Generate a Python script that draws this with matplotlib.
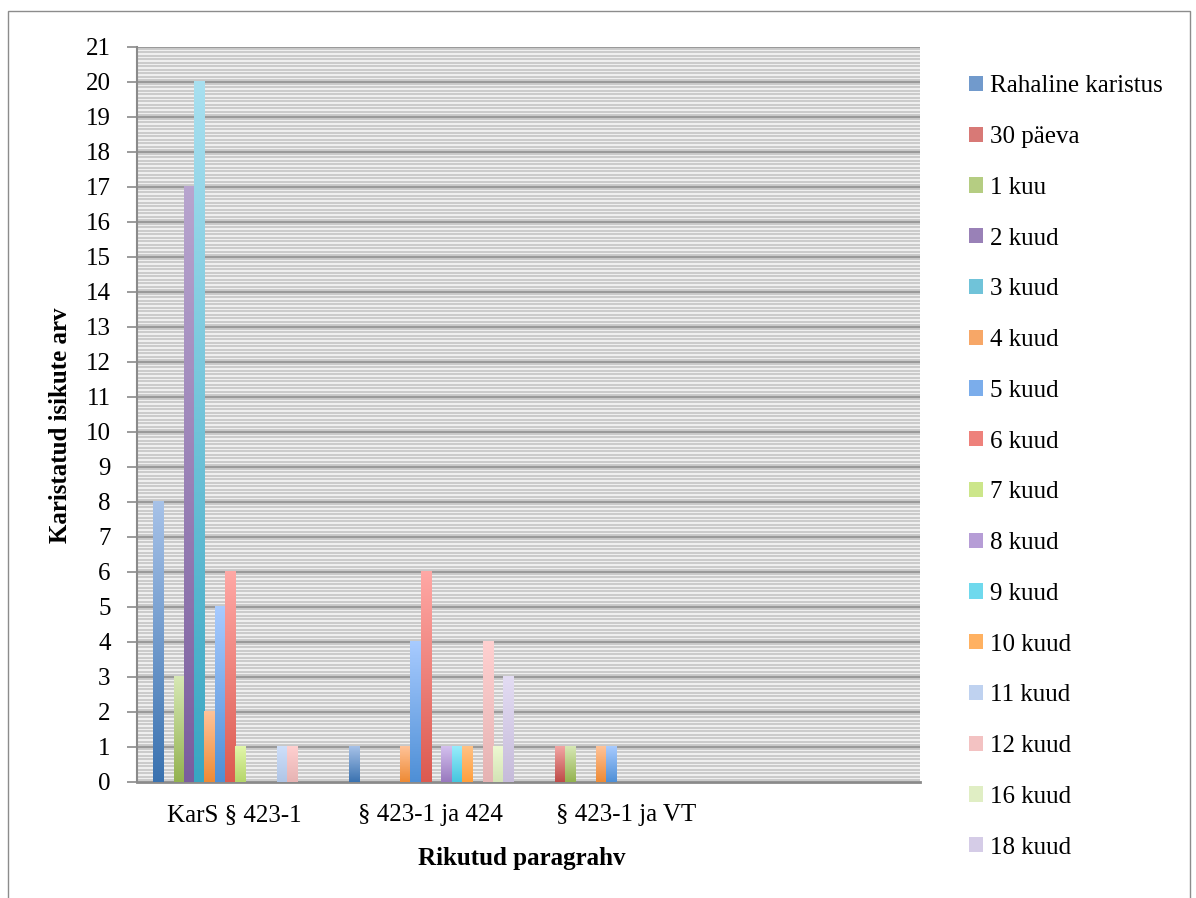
import numpy as np
import matplotlib.pyplot as plt
from matplotlib.colors import LinearSegmentedColormap
from matplotlib.patches import Patch, Rectangle

plt.rcParams['font.family'] = ['Liberation Serif', 'DejaVu Serif']

categories = ["KarS § 423-1", "§ 423-1 ja 424", "§ 423-1 ja VT", ""]
series = ["Rahaline karistus", "30 päeva", "1 kuu", "2 kuud", "3 kuud", "4 kuud",
          "5 kuud", "6 kuud", "7 kuud", "8 kuud", "9 kuud", "10 kuud",
          "11 kuud", "12 kuud", "16 kuud", "18 kuud"]
# one list per category, values in series order
karS_423 = [8, 0, 3, 17, 20, 2, 5, 6, 1, 0, 0, 0, 1, 1, 0, 0]
ja_424 = [1, 0, 0, 0, 0, 1, 4, 6, 0, 1, 1, 1, 0, 4, 1, 3]
ja_vt = [0, 1, 1, 0, 0, 1, 1, 0, 0, 0, 0, 0, 0, 0, 0, 0]
empty = [0] * 16

# gradient colours (top, bottom)
tops = ["#A7C2E8", "#F2A6A4", "#D7E8B5", "#B8A5CF", "#A8E0F0", "#FFC399",
        "#A8CBFF", "#FFA8A5", "#E2F7AA", "#D4C0EE", "#98ECFC", "#FFC285",
        "#CEDFFA", "#FFD0D0", "#EDF9D2", "#E3DCF3"]
bottoms = ["#3A72B0", "#BE4B48", "#93B24F", "#7A5D9E", "#38A6C2", "#EE8A34",
           "#4E8FD6", "#DC5A50", "#B5D56A", "#9879BE", "#46C6DE", "#FF9F3C",
           "#AFC5E6", "#E6B3B3", "#D3E3B5", "#C6BBDA"]

values = np.array([karS_423, ja_424, ja_vt, empty])

fig = plt.figure(figsize=(11.96, 8.98), dpi=100)
ax = fig.add_axes([0.1145, 0.1292, 0.6545, 0.8185])

# striped background
ax.set_facecolor("#efefef")
for yy in np.arange(0.05, 21, 0.1):
    ax.axhline(yy, color="#c4c4c4", lw=1.2, zorder=0)
for yy in range(1, 22):
    ax.axhline(yy, color="#9a9a9a", lw=1.5, zorder=1)

n = len(series)
w = 0.842 / n
x = np.arange(len(categories))
grad = np.linspace(0, 1, 256).reshape(-1, 1)
for i in range(n):
    cm = LinearSegmentedColormap.from_list("c%d" % i, [bottoms[i], tops[i]])
    for j in range(len(categories)):
        v = values[j, i]
        if v <= 0:
            continue
        x0 = x[j] - 0.418 + i * w
        ax.imshow(grad, extent=[x0, x0 + w, 0, v], origin="lower", cmap=cm,
                  aspect="auto", zorder=3, interpolation="bilinear")

ax.set_xlim(-0.5, 3.5)
ax.set_ylim(0, 21)
ax.set_yticks(range(0, 22))
ax.set_xticks(x)
ax.set_xticklabels(categories, fontsize=18)
ax.tick_params(axis="x", length=0, pad=16)
ax.tick_params(axis="y", length=7, width=1.2, color="#8a8a8a", pad=12, labelsize=18)
for s in ["top", "right"]:
    ax.spines[s].set_visible(False)
ax.spines["left"].set_color("#8a8a8a")
ax.spines["left"].set_linewidth(1.5)
ax.spines["bottom"].set_color("#8a8a8a")
ax.spines["bottom"].set_linewidth(2)

ax.set_xlabel("Rikutud paragrahv", fontsize=18, fontweight="bold")
ax.xaxis.set_label_coords(0.4917, -0.088)
ax.set_ylabel("Karistatud isikute arv", fontsize=18, fontweight="bold")
ax.yaxis.set_label_coords(-0.083, 0.486)

handles = [Patch(facecolor=LinearSegmentedColormap.from_list("h", [bottoms[i], tops[i]])(0.5),
                 edgecolor="none") for i in range(n)]
fig.legend(handles, series, loc="upper left", bbox_to_anchor=(0.7996, 0.93),
           frameon=False, fontsize=18, handlelength=0.56, handleheight=0.56,
           handletextpad=0.3, labelspacing=1.15, borderpad=0)

fig.add_artist(Rectangle((8 / 1196, -0.01), 1182 / 1196, 1 - 11 / 898 + 0.01,
                         transform=fig.transFigure, fill=False,
                         edgecolor="#8c8c8c", lw=1))

fig.savefig("out.png", dpi=100)
